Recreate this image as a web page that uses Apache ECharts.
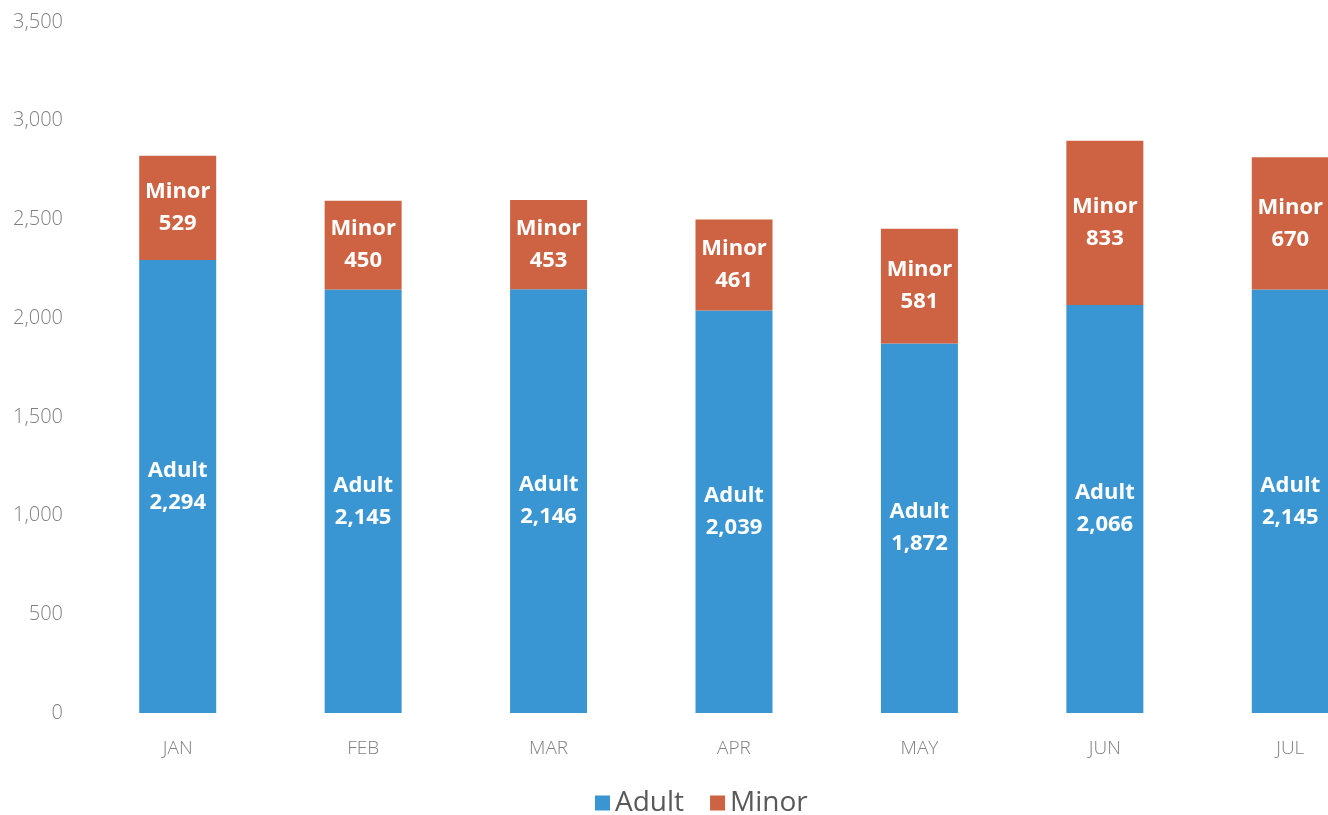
<!DOCTYPE html>
<html>
<head>
<meta charset="utf-8">
<script src="https://cdn.jsdelivr.net/npm/echarts@6/dist/echarts.min.js"></script>
<style>
  html, body { margin: 0; padding: 0; background: #fff; }
  #box { width: 1328px; height: 815px; }
</style>
</head>
<body>
<div id="box"></div>
<script>
// data
const months = ['JAN', 'FEB', 'MAR', 'APR', 'MAY', 'JUN', 'JUL']
const adult = [2294, 2145, 2146, 2039, 1872, 2066, 2145]
const minor = [529, 450, 453, 461, 581, 833, 670]

const fmt = v => Number(v).toLocaleString('en-US')

const chart = echarts.init(document.getElementById('box'))

const barLabel = {
  show: true,
  position: 'inside',
  color: '#fff',
  fontFamily: 'Open Sans',
  fontWeight: 'bold',
  fontSize: 22,
  lineHeight: 32,
  formatter: p => p.seriesName + '\n' + fmt(p.value)
}

const option = {
  animation: false,
  textStyle: { fontFamily: 'Open Sans' },
  // the reference is cropped on the right, so the grid runs past the canvas
  grid: { left: 85, width: 1298, top: 22, bottom: 102, outerBoundsMode: 'none' },
  legend: {
    data: ['Adult', 'Minor'],
    left: 590,
    top: 784,
    itemWidth: 15,
    itemHeight: 15,
    itemGap: 26,
    icon: 'rect',
    textStyle: { fontSize: 28, color: '#595959', fontFamily: 'Open Sans' }
  },
  xAxis: {
    type: 'category',
    data: months,
    axisLine: { show: false },
    axisTick: { show: false },
    axisLabel: { color: '#808080', fontSize: 19, fontWeight: 300, margin: 26 }
  },
  yAxis: {
    type: 'value',
    min: 0,
    max: 3500,
    interval: 500,
    splitLine: { show: false },
    axisLabel: { color: '#808080', fontSize: 20, fontWeight: 300, margin: 22, formatter: v => fmt(v) }
  },
  series: [
    {
      name: 'Adult',
      type: 'bar',
      stack: 'total',
      barWidth: 77,
      itemStyle: { color: '#3a95d3' },
      label: barLabel,
      data: adult
    },
    {
      name: 'Minor',
      type: 'bar',
      stack: 'total',
      barWidth: 77,
      itemStyle: { color: '#cd6342' },
      label: barLabel,
      data: minor
    }
  ]
}

chart.setOption(option)
</script>
</body>
</html>
